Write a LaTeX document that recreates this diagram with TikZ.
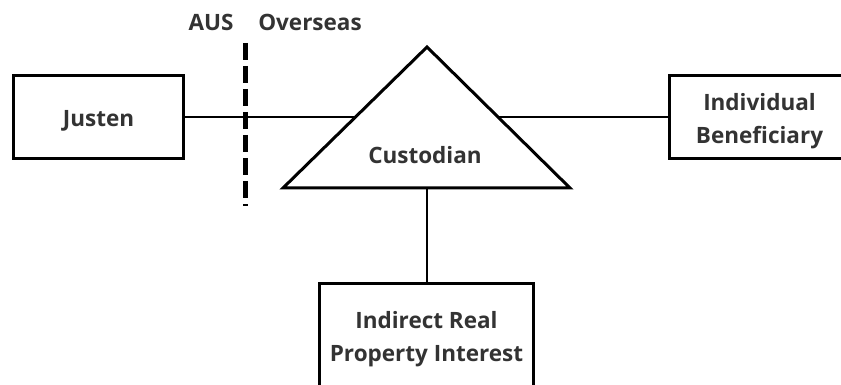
\documentclass[tikz,border=0pt]{standalone}
\usepackage{fontspec}
\setmainfont{Open Sans}
\usetikzlibrary{positioning}
\usetikzlibrary{calc}
\tikzset{every node/.style={ % Sets the properties for each label
      font=\bfseries\fontsize{22.5}{33}\selectfont,
      text=black!80},
      party/.style={ % Boxes for the parties involved
      draw, line width=3pt,
      minimum width=170pt, minimum height=83pt,
      text depth=0pt, % Lowers the text a little inside the box
      align=center},
      link/.style={ % Plain connecting lines
      draw, line width=2pt},
      divide/.style={ % Dashed border between AUS and overseas
      draw, line width=5pt,
      dash pattern=on 17pt off 6pt}}

\begin{document}
\begin{tikzpicture}[x=1pt, y=-1pt]
      \useasboundingbox (0,0) rectangle (841,385);
      % triangle corners
      \coordinate (apex) at (427,47);
      \coordinate (bl) at (283,188);
      \coordinate (br) at (570,188);
      \coordinate (tl) at ($(apex)!0.5!(bl)$);
      \coordinate (tr) at ($(apex)!0.5!(br)$);
      \coordinate (base) at ($(bl)!0.5!(br)$);
      \draw[line width=3pt] (apex) -- (bl) -- (br) -- cycle;
      \node (custodian) at (425,155) {Custodian};
      \node[party, text height=20pt] (justen) at (98.5,117) {Justen};
      \node[party, text height=54pt, minimum width=180pt] (benef) at (759.5,117) {Individual\\Beneficiary};
      \node[party, text height=49pt, minimum width=214pt, minimum height=106pt] (irpi) at (426.5,336.5) {Indirect Real\\Property Interest};
      \node (aus) at (211,22) {AUS};
      \node (overseas) at (310,22) {Overseas};
      \coordinate (bordertop) at (245,43);
      \coordinate (borderbot) at (245,206);
      \draw[link] (justen.east) -- (justen.east -| tl);
      \draw[link] (tr |- benef.west) -- (benef.west);
      \draw[link] (base) -- (irpi.north);
      \draw[divide] (bordertop) -- (borderbot);
\end{tikzpicture}
\end{document}
